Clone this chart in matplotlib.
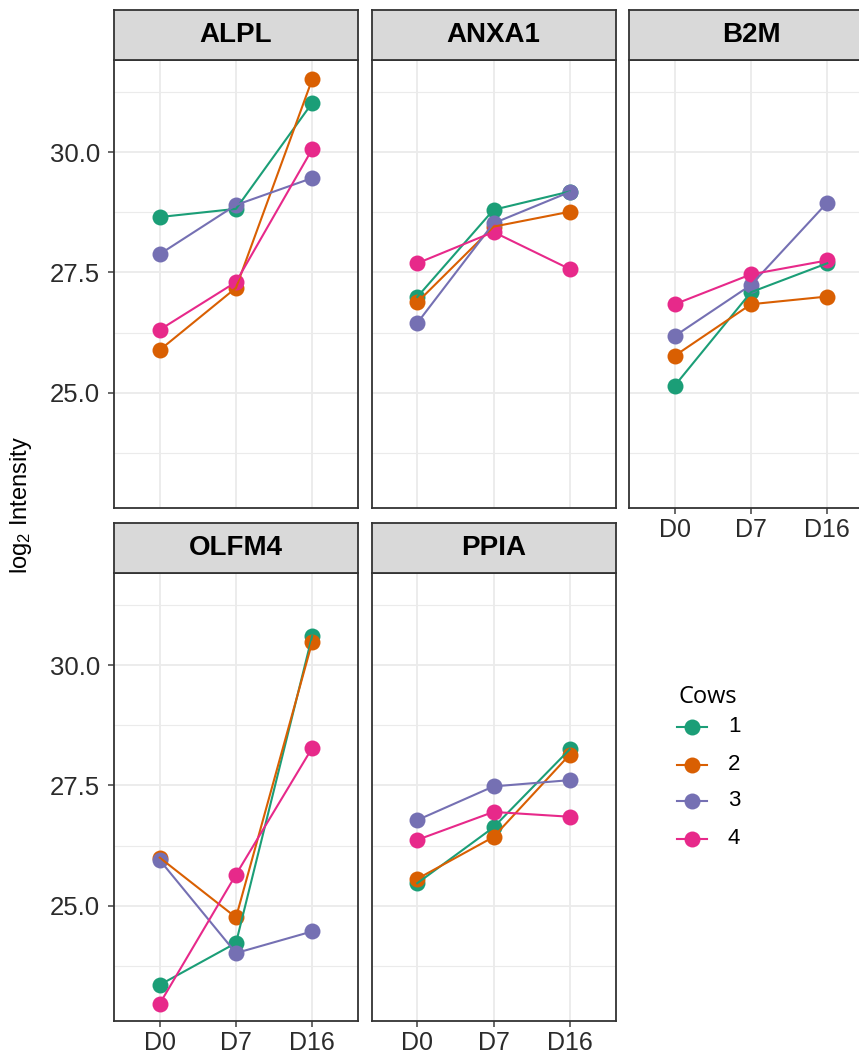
import matplotlib
matplotlib.use("Agg")
import matplotlib.pyplot as plt
from matplotlib.lines import Line2D
import numpy as np

# ---------------- data ----------------
days = ["D0", "D7", "D16"]
cows = ["1", "2", "3", "4"]
cow_colors = ["#1B9E77", "#D95F02", "#7570B3", "#E7298A"]
genes = ["ALPL", "ANXA1", "B2M", "OLFM4", "PPIA"]

ALPL = [[28.65, 28.82, 31.02],
        [25.89, 27.18, 31.51],
        [27.88, 28.90, 29.46],
        [26.31, 27.30, 30.06]]
ANXA1 = [[26.99, 28.80, 29.18],
         [26.88, 28.45, 28.76],
         [26.45, 28.52, 29.17],
         [27.69, 28.34, 27.57]]
B2M = [[25.15, 27.09, 27.69],
       [25.77, 26.84, 27.00],
       [26.18, 27.24, 28.95],
       [26.84, 27.46, 27.75]]
OLFM4 = [[23.36, 24.23, 30.61],
         [26.00, 24.76, 30.48],
         [25.95, 24.02, 24.47],
         [22.97, 25.65, 28.28]]
PPIA = [[25.47, 26.63, 28.25],
        [25.56, 26.43, 28.14],
        [26.78, 27.48, 27.61],
        [26.37, 26.95, 26.85]]
gene_data = {"ALPL": ALPL, "ANXA1": ANXA1, "B2M": B2M, "OLFM4": OLFM4, "PPIA": PPIA}

y_major = [25.0, 27.5, 30.0]
y_minor = [23.75, 26.25, 28.75, 31.25]
y_lim = (22.61, 31.91)

# ---------------- layout ----------------
plt.rcParams["mathtext.fontset"] = "custom"
plt.rcParams["mathtext.rm"] = "Liberation Sans"
plt.rcParams["mathtext.it"] = "Liberation Sans:italic"

W, H = 859, 1056
fig = plt.figure(figsize=(W / 100, H / 100), dpi=100)
fig.patch.set_facecolor("white")

col_x = [114, 371.5, 629]
pw = 244
rows = [(10, 60, 508), (523, 573, 1021)]  # strip top, panel top, panel bottom
positions = {"ALPL": (0, 0), "ANXA1": (0, 1), "B2M": (0, 2), "OLFM4": (1, 0), "PPIA": (1, 1)}

border = "#333333"
grid_c = "#EBEBEB"
tick_c = "#404040"
TFONT = "Liberation Sans"


def fax(x0, y0, x1, y1):
    return fig.add_axes([x0 / W, 1 - y1 / H, (x1 - x0) / W, (y1 - y0) / H])


for g in genes:
    r, c = positions[g]
    st, pt, pb = rows[r]
    x0 = col_x[c]
    ax = fax(x0, pt, x0 + pw, pb)
    ax.set_facecolor("white")
    xs = np.arange(len(days))
    ax.set_xlim(-0.6, len(days) - 1 + 0.6)
    ax.set_ylim(*y_lim)
    ax.set_xticks(xs)
    ax.set_yticks(y_major)
    ax.set_yticks(y_minor, minor=True)
    ax.grid(True, which="major", color=grid_c, lw=1.3, zorder=0)
    ax.grid(True, which="minor", axis="y", color=grid_c, lw=0.8, zorder=0)
    ax.set_axisbelow(True)
    for s in ax.spines.values():
        s.set_color(border)
        s.set_linewidth(1.3)
    vals = gene_data[g]
    for i, cow in enumerate(cows):
        ax.scatter(xs, vals[i], s=11.5 ** 2, color=cow_colors[i], zorder=3,
                   linewidths=0)
    for i, cow in enumerate(cows):
        ax.plot(xs, vals[i], color=cow_colors[i], lw=1.5, zorder=4)

    show_x = (r == 1) or (g == "B2M")
    show_y = (c == 0)
    ax.tick_params(axis="both", which="major", length=4, width=1.1, color=tick_c,
                   labelsize=18, labelcolor="#2b2b2b", pad=6)
    ax.tick_params(axis="x", which="major", pad=3.5)
    ax.tick_params(axis="y", which="minor", length=0)
    if show_x:
        ax.set_xticklabels(days, fontfamily=TFONT)
    else:
        ax.tick_params(axis="x", length=0, labelbottom=False)
    if show_y:
        ax.set_yticklabels([f"{v:.1f}" for v in y_major], fontfamily=TFONT, fontsize=18.5)
    else:
        ax.tick_params(axis="y", length=0, labelleft=False)

    # strip
    sax = fax(x0, st, x0 + pw, pt)
    sax.set_facecolor("#D9D9D9")
    sax.set_xticks([])
    sax.set_yticks([])
    for s in sax.spines.values():
        s.set_color(border)
        s.set_linewidth(1.3)
    sax.text(0.5, 0.5, g, transform=sax.transAxes, ha="center", va="center",
             fontsize=20, fontweight="bold", fontfamily=TFONT, color="black")

# y axis label
fig.text(21 / W, 1 - 505 / H, r"log$_\mathregular{2}$ Intensity", rotation=90,
         ha="center", va="center", fontsize=17, fontfamily=TFONT, color="black")

# legend (manual)
fig.text(678 / W, 1 - 697 / H, "Cows", ha="left", va="center", fontsize=17,
         fontfamily="Open Sans", color="black")
leg_y = [727, 765, 801, 839]
for i, cow in enumerate(cows):
    yy = 1 - leg_y[i] / H
    fig.add_artist(Line2D([677 / W, 707 / W], [yy, yy], color=cow_colors[i], lw=1.5,
                          transform=fig.transFigure))
    fig.add_artist(Line2D([692 / W], [yy], marker="o", markersize=11.5, color=cow_colors[i],
                          markeredgewidth=0, lw=0, transform=fig.transFigure))
    fig.text(728 / W, yy, cow, ha="left", va="center", fontsize=16,
             fontfamily=TFONT, color="black")

fig.savefig("out.png", dpi=100, facecolor="white")
